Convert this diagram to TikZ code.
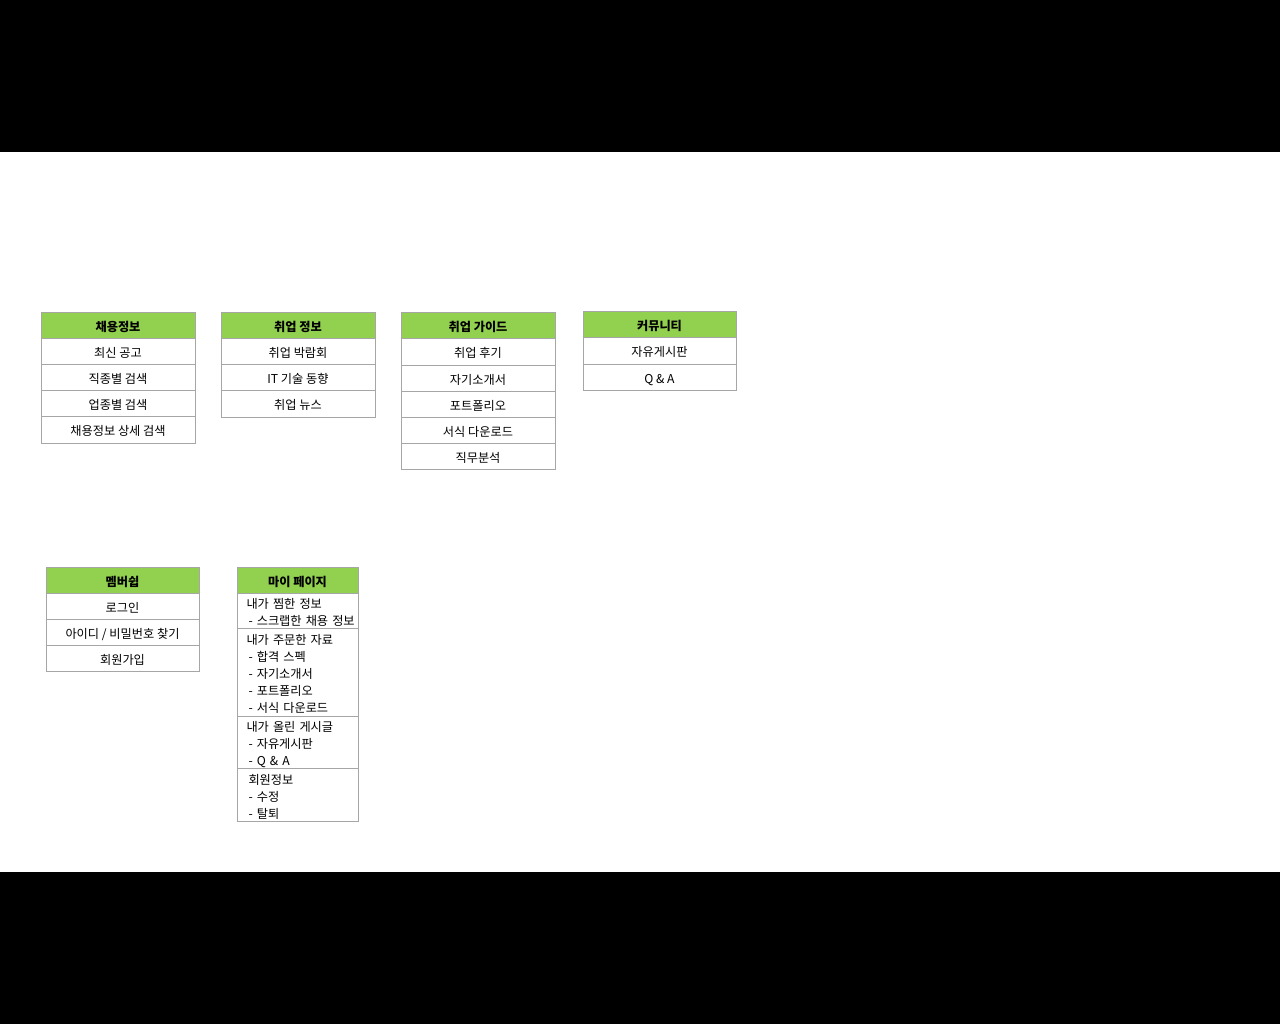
\documentclass[tikz,border=0pt]{standalone}
\usepackage{fontspec}
\setmainfont{Noto Sans CJK KR}
\definecolor{headgreen}{HTML}{92D050}
\definecolor{bordergray}{HTML}{A6A6A6}
\newcommand{\lstrut}{\rule{0pt}{7.2pt}}
\newcommand{\indhd}{\hspace*{4.25pt}}
\newcommand{\inditem}{\hspace*{5.25pt}}
\begin{document}
\begin{tikzpicture}[x=0.5pt,y=-0.5pt,
  cell/.style={draw=bordergray, fill=white, line width=0.5pt, minimum width=77pt,
    minimum height=13pt, inner sep=0pt, outer sep=0pt, anchor=north west,
    text height=7pt, text depth=0.8pt,
    font=\fontsize{6.1}{7}\selectfont},
  head/.style={cell, fill=headgreen, font=\fontsize{6.1}{7}\selectfont\bfseries},
  sect/.style={draw=bordergray, fill=white, line width=0.5pt, anchor=north west,
    outer sep=0pt, inner ysep=0pt, inner xsep=0.5pt, minimum width=60.5pt,
    text width=59.5pt, align=left, font=\fontsize{6.1}{8.5}\selectfont}]
% background and margins
\fill[black] (0,0) rectangle (1280,1024);
\fill[white] (0,152) rectangle (1280,872);
\useasboundingbox (0,0) rectangle (1280,1024);
% column 1
\node[head] (c1h) at (41,312) {채용정보};
\node[cell] (c1a) at (41,338) {최신 공고};
\node[cell] (c1b) at (41,364) {직종별 검색};
\node[cell] (c1c) at (41,390) {업종별 검색};
\node[cell, minimum height=13.5pt] (c1d) at (41,416) {채용정보 상세 검색};
% column 2
\node[head] (c2h) at (221,312) {취업 정보};
\node[cell] (c2a) at (221,338) {취업 박람회};
\node[cell] (c2b) at (221,364) {IT 기술 동향};
\node[cell, minimum height=13.5pt] (c2c) at (221,390) {취업 뉴스};
% column 3
\node[head] (c3h) at (401,312) {취업 가이드};
\node[cell, minimum height=13.5pt] (c3a) at (401,338) {취업 후기};
\node[cell] (c3b) at (401,365) {자기소개서};
\node[cell] (c3c) at (401,391) {포트폴리오};
\node[cell] (c3d) at (401,417) {서식 다운로드};
\node[cell] (c3e) at (401,443) {직무분석};
% column 4
\node[head, minimum width=76.5pt] (c4h) at (583,311) {커뮤니티};
\node[cell, minimum width=76.5pt, minimum height=13.5pt] (c4a) at (583,337) {자유게시판};
\node[cell, minimum width=76.5pt] (c4b) at (583,364) {Q \& A};
% column 5
\node[head, minimum width=76.5pt] (c5h) at (46,567) {멤버쉽};
\node[cell, minimum width=76.5pt] (c5a) at (46,593) {로그인};
\node[cell, minimum width=76.5pt] (c5b) at (46,619) {아이디 / 비밀번호 찾기};
\node[cell, minimum width=76.5pt] (c5c) at (46,645) {회원가입};
% column 6
\node[head, minimum width=60.5pt] (c6h) at (237,567) {마이 페이지};
\node[sect, minimum height=17.5pt] (c6a) at (237,593) {\lstrut\indhd 내가 찜한 정보\\\mbox{\inditem- 스크랩한 채용 정보}};
\node[sect, minimum height=44pt] (c6b) at (237,628) {\lstrut\indhd 내가 주문한 자료\\\inditem- 합격 스펙\\\inditem- 자기소개서\\\inditem- 포트폴리오\\\inditem- 서식 다운로드};
\node[sect, minimum height=26pt] (c6c) at (237,716) {\lstrut\indhd 내가 올린 게시글\\\inditem- 자유게시판\\\inditem- Q \& A};
\node[sect, minimum height=26.5pt] (c6d) at (237,768) {\lstrut\inditem 회원정보\\\inditem- 수정\\\inditem- 탈퇴};
\end{tikzpicture}
\end{document}
